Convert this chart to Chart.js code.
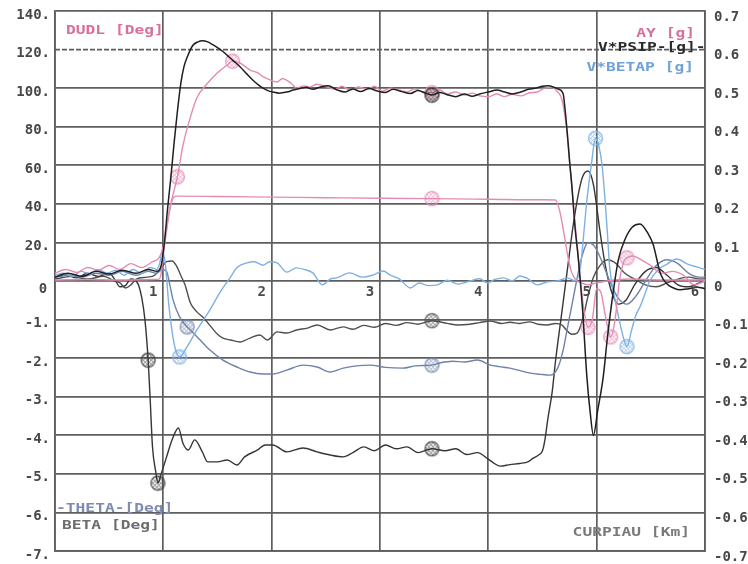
<!DOCTYPE html>
<html>
<head>
<meta charset="utf-8">
<script src="https://cdn.jsdelivr.net/npm/chart.js@4/dist/chart.umd.min.js"></script>
<style>
  html, body { margin: 0; padding: 0; background: #ffffff; }
  #c { display: block; }
</style>
</head>
<body>
<canvas id="c" width="748" height="564"></canvas>
<script>
// Step-steer run: steering input, lateral acceleration, yaw/slip terms and roll channels.

// Axis labels
const X_TICKS = ['0', '1', '2', '3', '4', '5', '6'];
const LEFT_TICKS = ['140.', '120.', '100.', '80.', '60.', '40.', '20.', '', '-1.', '-2.', '-3.', '-4.', '-5.', '-6.', '-7.'];
const RIGHT_TICKS = ['0.7', '0.6', '0.5', '0.4', '0.3', '0.2', '0.1', '0', '-0.1', '-0.2', '-0.3', '-0.4', '-0.5', '-0.6', '-0.7'];

// Steering wheel angle [deg], pairs of [time, value]
const DUDL_DEG = [[0,0.5],[0.3,0.8],[0.6,0.5],[0.9,0.8],[0.96,1],[0.98,4],[1.0,14],[1.03,26],[1.06,37],[1.09,43],[1.12,44],
  [1.5,43.8],[2.0,43.5],[2.5,43.2],[3.0,42.9],[3.48,42.7],[4.0,42.4],[4.5,42.1],[4.62,42],[4.66,36],[4.7,24],[4.73,14],
  [4.76,6],[4.79,2],[4.82,0],[4.86,-1],[4.92,-2],[5.0,-1],[5.1,0],[5.3,1],[5.6,0.5],[6.0,0.5]];

// Lateral acceleration [g]
const AY_G = [[0,0.02],[0.1,0.03],[0.2,0.022],[0.3,0.035],[0.4,0.028],[0.5,0.04],[0.6,0.03],[0.7,0.045],[0.8,0.035],[0.9,0.05],
  [0.96,0.06],[1.0,0.09],[1.03,0.14],[1.06,0.19],[1.13,0.27],[1.18,0.35],[1.25,0.425],[1.31,0.475],[1.4,0.51],[1.5,0.54],
  [1.59,0.56],[1.64,0.57],[1.71,0.565],[1.8,0.547],[1.87,0.54],[1.92,0.53],[1.98,0.522],[2.05,0.516],[2.1,0.525],[2.14,0.52],
  [2.19,0.51],[2.23,0.5],[2.3,0.506],[2.35,0.503],[2.42,0.51],[2.51,0.503],[2.58,0.497],[2.65,0.505],[2.72,0.495],[2.8,0.503],
  [2.88,0.497],[2.95,0.505],[3.02,0.492],[3.1,0.5],[3.18,0.495],[3.25,0.49],[3.32,0.498],[3.4,0.49],[3.48,0.488],[3.55,0.495],
  [3.62,0.485],[3.7,0.49],[3.78,0.482],[3.85,0.487],[3.92,0.48],[4.0,0.478],[4.08,0.485],[4.15,0.478],[4.22,0.484],[4.3,0.48],
  [4.38,0.488],[4.45,0.49],[4.52,0.5],[4.58,0.502],[4.64,0.49],[4.68,0.47],[4.72,0.4],[4.76,0.28],[4.8,0.15],[4.84,0.03],
  [4.88,-0.07],[4.92,-0.12],[4.96,-0.1],[5.0,-0.02],[5.04,-0.03],[5.08,-0.09],[5.13,-0.145],[5.17,-0.1],[5.21,0.0],[5.25,0.05],
  [5.28,0.06],[5.33,0.065],[5.38,0.06],[5.44,0.05],[5.5,0.04],[5.6,0.02],[5.7,0.025],[5.8,0.015],[5.9,-0.01],[6.0,0.0]];

// Yaw-rate term V*PSIP [g]
const VPSIP_G = [[0,0.01],[0.12,0.02],[0.25,0.012],[0.38,0.025],[0.5,0.018],[0.62,0.028],[0.75,0.02],[0.86,0.03],[0.94,0.025],
  [0.98,0.04],[1.01,0.1],[1.04,0.19],[1.07,0.27],[1.1,0.36],[1.13,0.44],[1.16,0.51],[1.19,0.555],[1.22,0.58],[1.27,0.61],
  [1.32,0.62],[1.36,0.623],[1.41,0.62],[1.46,0.612],[1.5,0.605],[1.55,0.595],[1.59,0.585],[1.65,0.57],[1.71,0.555],[1.77,0.537],
  [1.83,0.52],[1.88,0.508],[1.92,0.5],[1.97,0.493],[2.01,0.49],[2.07,0.487],[2.14,0.49],[2.2,0.495],[2.26,0.499],[2.32,0.502],
  [2.38,0.497],[2.45,0.503],[2.52,0.506],[2.6,0.496],[2.68,0.49],[2.75,0.498],[2.82,0.491],[2.9,0.499],[2.97,0.493],[3.05,0.489],
  [3.12,0.497],[3.2,0.491],[3.28,0.486],[3.35,0.494],[3.42,0.487],[3.48,0.482],[3.55,0.489],[3.62,0.483],[3.7,0.478],[3.78,0.485],
  [3.85,0.479],[3.92,0.485],[4.0,0.49],[4.08,0.495],[4.15,0.49],[4.22,0.485],[4.3,0.49],[4.37,0.497],[4.44,0.5],[4.5,0.505],
  [4.55,0.506],[4.6,0.503],[4.65,0.497],[4.69,0.486],[4.71,0.44],[4.73,0.38],[4.75,0.31],[4.77,0.25],[4.8,0.14],[4.83,0.06],
  [4.87,-0.075],[4.91,-0.25],[4.94,-0.34],[4.97,-0.4],[5.01,-0.335],[5.06,-0.25],[5.1,-0.145],[5.15,-0.034],[5.2,0.055],
  [5.26,0.107],[5.33,0.14],[5.4,0.148],[5.48,0.12],[5.52,0.096],[5.59,0.018],[5.65,-0.008],[5.71,-0.018],[5.77,-0.023],
  [5.85,-0.02],[5.93,-0.016],[6.0,-0.02]];

// Slip-rate term V*BETAP [g]
const VBETAP_G = [[0,0.015],[0.08,0.02],[0.16,0.012],[0.24,0.025],[0.32,0.018],[0.4,0.03],[0.48,0.02],[0.56,0.028],[0.64,0.015],
  [0.72,0.03],[0.8,0.02],[0.88,0.035],[0.94,0.03],[0.97,0.05],[0.99,0.08],[1.02,0.04],[1.05,-0.06],[1.08,-0.13],[1.11,-0.175],
  [1.15,-0.197],[1.22,-0.17],[1.31,-0.127],[1.43,-0.075],[1.52,-0.031],[1.62,0.01],[1.68,0.035],[1.77,0.047],[1.84,0.05],
  [1.92,0.041],[1.98,0.05],[2.05,0.047],[2.14,0.023],[2.23,0.034],[2.3,0.03],[2.38,0.021],[2.47,-0.01],[2.54,0.005],[2.6,0.008],
  [2.72,0.021],[2.84,0.01],[2.93,0.015],[3.03,0.026],[3.09,0.016],[3.18,0.005],[3.28,-0.018],[3.36,-0.005],[3.45,-0.012],
  [3.53,-0.01],[3.62,0.002],[3.72,-0.008],[3.83,0.0],[3.92,0.006],[3.99,-0.005],[4.06,0.004],[4.14,0.008],[4.22,0.0],[4.29,0.013],
  [4.37,0.005],[4.45,-0.01],[4.55,-0.002],[4.64,0.0],[4.73,0.008],[4.8,0.0],[4.85,0.035],[4.88,0.12],[4.91,0.21],[4.95,0.3],
  [4.99,0.37],[5.02,0.35],[5.05,0.3],[5.08,0.2],[5.1,0.12],[5.12,0.036],[5.15,-0.02],[5.2,-0.09],[5.25,-0.15],[5.28,-0.17],
  [5.32,-0.13],[5.36,-0.09],[5.4,-0.067],[5.45,-0.03],[5.49,0.0],[5.57,0.03],[5.65,0.044],[5.74,0.057],[5.84,0.044],[5.93,0.036],[6.0,0.03]];

// Roll angle THETA [deg]
const THETA_DEG = [[0,0.1],[0.12,0.15],[0.25,0.1],[0.38,0.2],[0.5,0.15],[0.62,0.25],[0.75,0.15],[0.86,0.25],[0.94,0.2],[0.99,0.3],
  [1.03,0.25],[1.06,-0.1],[1.09,-0.49],[1.15,-0.93],[1.22,-1.19],[1.25,-1.27],[1.34,-1.53],[1.43,-1.79],[1.55,-2.05],[1.68,-2.23],
  [1.8,-2.36],[1.92,-2.41],[2.01,-2.41],[2.14,-2.31],[2.29,-2.18],[2.42,-2.23],[2.54,-2.36],[2.66,-2.26],[2.78,-2.2],[2.91,-2.18],
  [3.05,-2.24],[3.21,-2.26],[3.33,-2.2],[3.48,-2.18],[3.56,-2.12],[3.67,-2.08],[3.78,-2.1],[3.9,-2.05],[4.02,-2.18],[4.1,-2.22],
  [4.2,-2.26],[4.3,-2.33],[4.39,-2.39],[4.48,-2.42],[4.57,-2.44],[4.64,-2.26],[4.69,-1.8],[4.73,-1.22],[4.78,-0.5],[4.82,0.08],
  [4.86,0.6],[4.92,1.0],[4.98,0.9],[5.05,0.5],[5.12,0.0],[5.2,-0.45],[5.28,-0.6],[5.36,-0.4],[5.45,0.0],[5.55,0.4],[5.65,0.55],
  [5.75,0.45],[5.85,0.2],[5.95,0.1],[6.0,0.1]];

// Side-slip angle BETA [deg]
const BETA_DEG = [[0,0.05],[0.15,0.12],[0.3,0.05],[0.45,0.12],[0.55,0.0],[0.6,-0.05],[0.65,-0.18],[0.7,-0.1],[0.75,0.05],[0.85,0.1],
  [0.92,0.15],[0.98,0.35],[1.03,0.5],[1.08,0.52],[1.12,0.4],[1.16,0.15],[1.2,-0.1],[1.25,-0.57],[1.31,-0.8],[1.37,-0.95],
  [1.43,-1.15],[1.5,-1.38],[1.55,-1.48],[1.62,-1.53],[1.71,-1.58],[1.8,-1.48],[1.89,-1.4],[1.96,-1.53],[2.05,-1.32],[2.14,-1.35],
  [2.23,-1.27],[2.33,-1.22],[2.42,-1.14],[2.54,-1.27],[2.66,-1.19],[2.75,-1.25],[2.85,-1.15],[2.95,-1.2],[3.05,-1.1],[3.15,-1.15],
  [3.25,-1.08],[3.35,-1.12],[3.48,-1.03],[3.62,-1.1],[3.72,-1.14],[3.83,-1.12],[3.92,-1.08],[4.02,-1.04],[4.12,-1.1],[4.2,-1.07],
  [4.29,-1.1],[4.38,-1.06],[4.46,-1.12],[4.54,-1.14],[4.62,-1.1],[4.68,-1.14],[4.72,-1.27],[4.77,-1.38],[4.82,-1.35],[4.87,-1.0],
  [4.92,-0.4],[4.97,0.1],[5.03,0.4],[5.1,0.55],[5.18,0.45],[5.26,0.2],[5.35,0.05],[5.45,-0.1],[5.55,-0.15],[5.65,-0.05],
  [5.75,0.05],[5.85,0.1],[5.95,0.05],[6.0,0.05]];

// CURPIAU channel
const CURPIAU = [[0,0.1],[0.1,0.15],[0.2,0.08],[0.3,0.2],[0.4,0.12],[0.5,0.2],[0.55,0.05],[0.6,-0.15],[0.65,-0.12],[0.7,0.05],
  [0.74,0.02],[0.77,-0.1],[0.8,-0.42],[0.83,-1.0],[0.86,-2.05],[0.88,-3.16],[0.9,-4.3],[0.93,-4.95],[0.95,-5.24],[0.98,-5.0],
  [1.03,-4.56],[1.08,-4.12],[1.14,-3.81],[1.18,-4.2],[1.23,-4.38],[1.29,-4.12],[1.36,-4.43],[1.41,-4.69],[1.5,-4.69],[1.59,-4.64],
  [1.68,-4.77],[1.75,-4.56],[1.87,-4.38],[1.94,-4.25],[2.01,-4.25],[2.14,-4.43],[2.29,-4.33],[2.42,-4.43],[2.54,-4.51],[2.66,-4.56],
  [2.75,-4.45],[2.85,-4.3],[2.95,-4.4],[3.05,-4.25],[3.15,-4.35],[3.25,-4.3],[3.35,-4.45],[3.48,-4.35],[3.6,-4.4],[3.7,-4.35],
  [3.8,-4.5],[3.9,-4.45],[4.0,-4.62],[4.05,-4.72],[4.11,-4.8],[4.2,-4.76],[4.29,-4.73],[4.37,-4.68],[4.41,-4.6],[4.47,-4.5],
  [4.5,-4.4],[4.52,-4.16],[4.55,-3.56],[4.59,-2.86],[4.62,-2.08],[4.68,-0.78],[4.74,0.52],[4.78,1.38],[4.83,2.24],[4.87,2.7],
  [4.92,2.85],[4.97,2.5],[5.03,1.3],[5.08,0.4],[5.14,-0.3],[5.2,-0.6],[5.27,-0.5],[5.35,-0.1],[5.45,0.25],[5.55,0.35],
  [5.65,0.15],[5.75,-0.1],[5.85,-0.15],[5.95,-0.05],[6.0,0.0]];

// Times at which a channel carries its hatched identification mark
const MARKS_DUDL = [3.48];
const MARKS_AY = [1.13, 1.64, 3.48, 4.92, 5.13, 5.28];
const MARKS_VPSIP = [3.48];
const MARKS_VBETAP = [1.15, 4.99, 5.28];
const MARKS_THETA = [1.22, 3.48];
const MARKS_BETA = [3.48];
const MARKS_CURPIAU = [0.86, 0.95, 3.48];

const GRID = '#5e5e5e';
const CLEAR = 'rgba(0,0,0,0)';
const FONT = '"DejaVu Sans Mono", "Liberation Mono", monospace';
const PINK = '#e48bb4';
const PINK_TXT = '#d8709d';
const BLACK = '#1f1f1f';
const BLUE = '#7db1e4';
const SLATE = '#6f82a8';
const GREY = '#4f4f4f';
const DARK = '#363636';

function hatchMark(color) {
  const c = document.createElement('canvas');
  c.width = 17; c.height = 17;
  const g = c.getContext('2d');
  g.globalAlpha = 0.8;
  g.strokeStyle = color;
  g.lineWidth = 1.3;
  g.beginPath(); g.arc(8.5, 8.5, 7, 0, Math.PI * 2); g.stroke();
  g.save();
  g.beginPath(); g.arc(8.5, 8.5, 7, 0, Math.PI * 2); g.clip();
  g.lineWidth = 0.9;
  for (let k = -17; k <= 17; k += 4) {
    g.beginPath(); g.moveTo(k, 0); g.lineTo(k + 17, 17); g.stroke();
    g.beginPath(); g.moveTo(k + 17, 0); g.lineTo(k, 17); g.stroke();
  }
  g.restore();
  return c;
}

function channel(label, pairs, axis, color, marks, width) {
  const mark = hatchMark(color);
  return {
    label,
    data: pairs.map(p => ({ x: p[0], y: p[1] })),
    yAxisID: axis,
    borderColor: color,
    borderWidth: width || 1.4,
    fill: false,
    cubicInterpolationMode: 'monotone',
    pointStyle: mark,
    pointRadius: c => (c.raw && marks.includes(c.raw.x)) ? 7 : 0,
    pointHoverRadius: 0
  };
}

const datasets = [
  channel('V*PSIP [g]', VPSIP_G, 'yR', BLACK, MARKS_VPSIP, 1.5),
  channel('AY [g]', AY_G, 'yR', PINK, MARKS_AY),
  channel('DUDL [Deg]', DUDL_DEG, 'yD', PINK, MARKS_DUDL),
  channel('V*BETAP [g]', VBETAP_G, 'yR', BLUE, MARKS_VBETAP),
  channel('THETA [Deg]', THETA_DEG, 'yL', SLATE, MARKS_THETA),
  channel('BETA [Deg]', BETA_DEG, 'yL', GREY, MARKS_BETA),
  channel('CURPIAU [Km]', CURPIAU, 'yL', DARK, MARKS_CURPIAU)
];

// Channel captions: text, x, y, colour, alignment
const CAPTIONS = [
  ['DUDL [Deg]', 66, 31, PINK_TXT, 'left'],
  ['AY [g]', 695, 34, PINK_TXT, 'right'],
  ['V*PSIP-[g]-', 598, 48, '#2a2a2a', 'left'],
  ['V*BETAP [g]', 694, 68, '#6fa2d6', 'right'],
  ['-THETA-[Deg]', 56, 509, '#7d8cb3', 'left'],
  ['BETA [Deg]', 62, 526, '#6d6d6d', 'left'],
  ['CURPIAU [Km]', 690, 533, '#7a7a7a', 'right']
];

function wideText(ctx, str, x, y, color, align) {
  ctx.save();
  ctx.font = 'bold 13px ' + FONT;
  ctx.fillStyle = color;
  ctx.textBaseline = 'middle';
  ctx.textAlign = 'left';
  const sx = 1.25;
  const w = ctx.measureText(str).width * sx;
  const x0 = align === 'right' ? x - w : x;
  ctx.translate(x0, y);
  ctx.scale(sx, 1);
  ctx.fillText(str, 0, 0);
  ctx.restore();
}

const decorations = {
  id: 'decorations',
  beforeDatasetsDraw(chart) {
    const { ctx, chartArea, scales } = chart;
    // dashed reference at the 0.6 g / 120 level
    const y = scales.yL.getPixelForValue(6);
    ctx.save();
    ctx.strokeStyle = GRID;
    ctx.lineWidth = 1.7;
    ctx.setLineDash([5, 2]);
    ctx.beginPath();
    ctx.moveTo(chartArea.left, y);
    ctx.lineTo(chartArea.right, y);
    ctx.stroke();
    ctx.restore();
  },
  afterDatasetsDraw(chart) {
    const { ctx, scales } = chart;
    const y0 = scales.yL.getPixelForValue(0);
    ctx.save();
    ctx.font = 'bold 14px ' + FONT;
    ctx.fillStyle = '#4a4a4a';
    ctx.textAlign = 'center';
    ctx.textBaseline = 'middle';
    X_TICKS.forEach((t, i) => {
      const px = scales.x.getPixelForValue(i);
      ctx.fillText(t, px - (i === 0 ? 12 : 10), y0 + (i === 0 ? 8 : 11));
    });
    ctx.restore();
    CAPTIONS.forEach(c => wideText(ctx, c[0], c[1], c[2], c[3], c[4]));
  }
};

new Chart(document.getElementById('c'), {
  type: 'line',
  data: { datasets },
  options: {
    responsive: false,
    devicePixelRatio: 1,
    animation: false,
    events: [],
    layout: { padding: { top: 11, bottom: 13, left: 0, right: 0 } },
    plugins: { legend: { display: false }, tooltip: { enabled: false } },
    scales: {
      x: {
        type: 'linear', min: 0, max: 6,
        ticks: { display: false, stepSize: 1 },
        grid: { color: GRID, lineWidth: 1.7, drawTicks: false },
        border: { color: GRID, width: 1.7 },
        afterFit: s => { s.height = 0; }
      },
      yL: {
        position: 'left', min: -7, max: 7,
        ticks: {
          stepSize: 1,
          labelOffset: 4,
          padding: 1,
          color: '#484848',
          font: { family: FONT, size: 14, weight: 'bold', lineHeight: 1 },
          callback: v => LEFT_TICKS[7 - Math.round(v)]
        },
        grid: {
          color: c => (c.tick && c.tick.value === 6) ? CLEAR : GRID,
          lineWidth: 1.7, drawTicks: true, tickLength: 4, tickColor: CLEAR
        },
        border: { color: GRID, width: 1.7 },
        afterFit: s => { s.width = 55; }
      },
      yR: {
        position: 'right', min: -0.7, max: 0.7,
        ticks: {
          stepSize: 0.1,
          labelOffset: 6,
          padding: 1,
          color: '#484848',
          font: { family: FONT, size: 14, weight: 'bold', lineHeight: 1 },
          callback: v => RIGHT_TICKS[7 - Math.round(v * 10)]
        },
        grid: { drawOnChartArea: false, drawTicks: true, tickLength: 8, tickColor: CLEAR },
        border: { color: GRID, width: 1.7 },
        afterFit: s => { s.width = 43; }
      },
      yD: { display: false, min: -140, max: 140 }
    }
  },
  plugins: [decorations]
});
</script>
</body>
</html>
